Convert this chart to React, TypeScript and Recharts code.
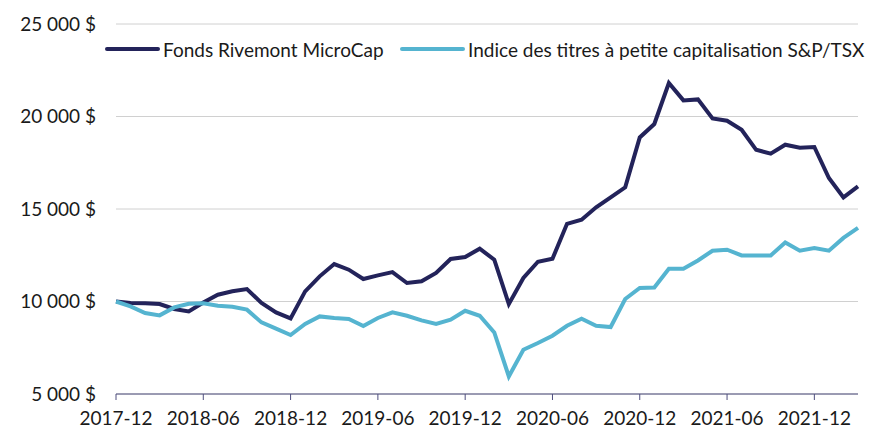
import { LineChart, Line, XAxis, YAxis, CartesianGrid, Legend } from "recharts";

const months = [
  "2017-12", "2018-01", "2018-02", "2018-03", "2018-04", "2018-05", "2018-06", "2018-07", "2018-08", "2018-09", "2018-10", "2018-11",
  "2018-12", "2019-01", "2019-02", "2019-03", "2019-04", "2019-05", "2019-06", "2019-07", "2019-08", "2019-09", "2019-10", "2019-11",
  "2019-12", "2020-01", "2020-02", "2020-03", "2020-04", "2020-05", "2020-06", "2020-07", "2020-08", "2020-09", "2020-10", "2020-11",
  "2020-12", "2021-01", "2021-02", "2021-03", "2021-04", "2021-05", "2021-06", "2021-07", "2021-08", "2021-09", "2021-10", "2021-11",
  "2021-12", "2022-01", "2022-02", "2022-03",
];

const fonds = [
  10000, 9920, 9900, 9865, 9594, 9465, 9950, 10367, 10550, 10675, 9920, 9410,
  9087, 10550, 11360, 12026, 11720, 11215, 11410, 11590, 11000, 11090, 11540, 12300,
  12405, 12853, 12260, 9865, 11270, 12150, 12310, 14200, 14420, 15090, 15630, 16170,
  18870, 19595, 21810, 20870, 20925, 19900, 19770, 19285, 18200, 17990, 18475, 18310,
  18350, 16675, 15630, 16220,
];

const indice = [
  10000, 9735, 9378, 9250, 9680, 9880, 9900, 9775, 9720, 9560, 8870, 8530,
  8190, 8785, 9195, 9110, 9055, 8675, 9110, 9410, 9230, 8980, 8785, 9015,
  9500, 9230, 8330, 5950, 7395, 7755, 8150, 8690, 9070, 8690, 8620, 10135,
  10730, 10760, 11770, 11770, 12220, 12745, 12800, 12490, 12490, 12490, 13195, 12745,
  12890, 12745, 13435, 13975,
];

const yTicks = [5000, 10000, 15000, 20000, 25000];

const data = months.map((m, i) => ({ month: m, fonds: fonds[i], indice: indice[i] }));

const DARK = "#23235a";
const LIGHT = "#55b4d0";
const FONT = "Lato, 'Open Sans', sans-serif";
const TEXT = "#1a1a1a";

const fmt = (v: number) => `${Math.floor(v / 1000)} ${String(v % 1000).padStart(3, "0")} $`;

// legend samples sit at fixed spots like the original
const legendItems = [
  { label: "Fonds Rivemont MicroCap", color: DARK, x: 105, w: 55 },
  { label: "Indice des titres à petite capitalisation S&P/TSX", color: LIGHT, x: 400, w: 65 },
];

// the legend box is 24px tall; recharts adds that to the top margin
const renderLegend = () => (
  <div style={{ position: "relative", height: 24, fontFamily: FONT, fontSize: 19, color: TEXT }}>
    {legendItems.map((it) => (
      <div key={it.label} style={{ position: "absolute", left: it.x, top: 0, display: "flex", alignItems: "center", whiteSpace: "nowrap", height: 24 }}>
        <span style={{ display: "inline-block", width: it.w, height: 4, borderRadius: 2, background: it.color, marginRight: 3 }} />
        <span>{it.label}</span>
      </div>
    ))}
  </div>
);

export default function App() {
  return (
    <div style={{ position: "absolute", left: 0, top: 0, width: 879, height: 430, background: "#fff" }}>
      <LineChart width={879} height={430} data={data} margin={{ top: 0, right: 21, bottom: 0, left: 0 }}>
        <CartesianGrid vertical={false} stroke="#d0d0d0" />
        <XAxis
          dataKey="month"
          interval={5}
          height={36}
          stroke="#4f4f7f"
          tickSize={6}
          tick={{ fill: TEXT, fontSize: 19, fontFamily: FONT, dy: 8 }}
          tickMargin={4}
        />
        <YAxis
          domain={[5000, 25000]}
          ticks={yTicks}
          tickFormatter={fmt}
          axisLine={false}
          tickLine={false}
          width={116}
          tickMargin={14}
          tick={{ fill: TEXT, fontSize: 19, fontFamily: FONT }}
        />
        <Legend
          verticalAlign="top"
          align="left"
          content={renderLegend}
          wrapperStyle={{ top: 37, left: 0, width: 879, height: 24 }}
        />
        <Line dataKey="fonds" stroke={DARK} strokeWidth={4} dot={false} isAnimationActive={false} />
        <Line dataKey="indice" stroke={LIGHT} strokeWidth={4} dot={false} isAnimationActive={false} />
      </LineChart>
    </div>
  );
}
